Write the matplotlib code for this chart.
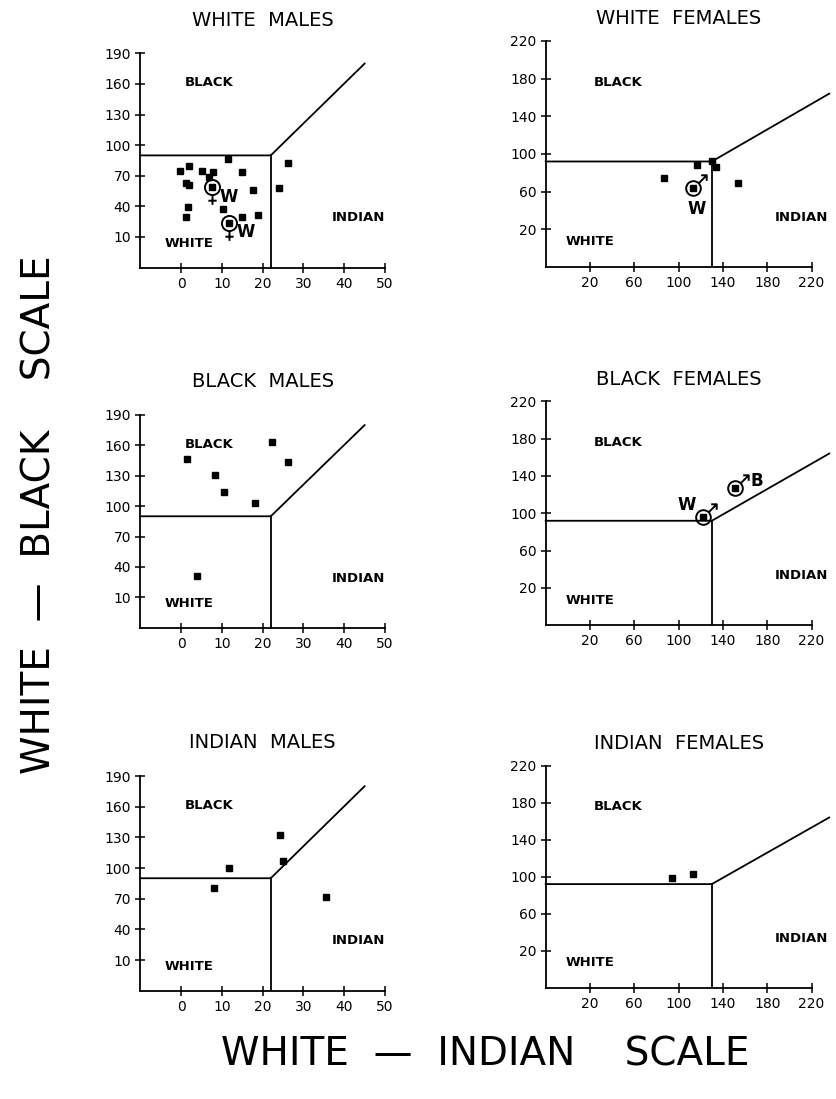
import matplotlib.pyplot as plt
from matplotlib.path import Path

plt.rcParams['font.family'] = ['DejaVu Sans']

# ---- data ----
# left column: x = white-indian scale, y = white-black scale
wm_x = [-0.2, 2.0, 5.2, 7.8, 11.6, 14.9, 1.2, 2.0, 6.9, 17.6, 26.3, 24.1, 1.8, 10.4, 1.2, 14.9, 18.9]
wm_y = [75, 80, 74.4, 74, 86.2, 73.4, 63.2, 61, 68.5, 56, 82.8, 57.7, 39.7, 37.2, 29.3, 29.3, 31.3]
wm_sym_x = [7.7, 11.8]
wm_sym_y = [58.7, 24]
wm_sym_lab = ['W', 'W']

bm_x = [1.4, 8.3, 10.5, 18.1, 22.4, 26.3, 3.8]
bm_y = [146.2, 131, 114.2, 103.4, 163.6, 143.9, 31]

im_x = [11.8, 8.1, 24.3, 24.9, 35.5]
im_y = [99.7, 80.7, 132.6, 107.2, 71.9]

# right column
wf_x = [87, 116.3, 130.4, 133.4, 153.8]
wf_y = [74, 88.3, 92.8, 86.5, 68.8]
wf_sym_x = [112.7]
wf_sym_y = [63.5]
wf_sym_lab = ['W']

bf_x = []
bf_y = []
bf_sym_x = [122.3, 150.9]
bf_sym_y = [95.7, 126.8]
bf_sym_lab = ['W', 'B']

if_x = [94.3, 113.2]
if_y = [98.9, 102.6]

# decision boundaries
left_bx = [-10, 22, 45]
left_by = [90, 90, 180]
right_bx = [-20, 130, 236]
right_by = [92, 92, 164]

left_xticks = [0, 10, 20, 30, 40, 50]
left_yticks = [10, 40, 70, 100, 130, 160, 190]
right_xticks = [20, 60, 100, 140, 180, 220]
right_yticks = [20, 60, 100, 140, 180, 220]

W, H = 836, 1099
fig = plt.figure(figsize=(W / 100, H / 100), dpi=100)


def rect(x0, x1, ytop, ybot):
    return [x0 / W, 1 - ybot / H, (x1 - x0) / W, (ybot - ytop) / H]


# symbols: circle with cross (female) or arrow (male)
circ = Path.unit_circle()
fem = Path.make_compound_path(circ, Path([(0, -1), (0, -2.3)]),
                              Path([(-0.55, -1.75), (0.55, -1.75)]))
male = Path.make_compound_path(circ, Path([(0.7, 0.7), (1.8, 1.8)]),
                               Path([(1.05, 1.8), (1.8, 1.8), (1.8, 1.05)]))


def panel(pos, title, side, px, py, sx=(), sy=(), slab=(), sym=None, lab_off=None):
    ax = fig.add_axes(pos)
    if side == 'left':
        ax.set_xlim(-10, 50)
        ax.set_ylim(-20, 190)
        ax.set_xticks(left_xticks)
        ax.set_yticks(left_yticks)
        bx, by = left_bx, left_by
        txt = [(7, 161, 'BLACK'), (2, 4, 'WHITE'), (43.5, 29, 'INDIAN')]
    else:
        ax.set_xlim(-20, 220)
        ax.set_ylim(-20, 220)
        ax.set_xticks(right_xticks)
        ax.set_yticks(right_yticks)
        bx, by = right_bx, right_by
        txt = [(45, 176, 'BLACK'), (20, 7, 'WHITE'), (211, 33, 'INDIAN')]
    for s in ['top', 'right']:
        ax.spines[s].set_visible(False)
    for s in ['left', 'bottom']:
        ax.spines[s].set_linewidth(1.3)
    ax.tick_params(direction='inout', length=7, width=1.1, labelsize=10, pad=3)
    ax.plot(bx, by, color='black', lw=1.3, clip_on=False)
    ax.plot([bx[1], bx[1]], [ax.get_ylim()[0], by[1]], color='black', lw=1.3)
    ax.plot(px, py, 's', color='black', ms=4.5, clip_on=False)
    for x, y, t in txt:
        ax.text(x, y, t, ha='center', va='center', fontsize=9.5, fontweight='bold')
    if sym is not None:
        ms = 25 if sym is fem else 19
        ax.plot(sx, sy, linestyle='none', marker=sym, ms=ms, mfc='none', mec='black', mew=1.4)
        ax.plot(sx, sy, 's', color='black', ms=4.5)
        for x, y, t, off in zip(sx, sy, slab, lab_off):
            ax.annotate(t, (x, y), xytext=off, textcoords='offset points',
                        ha='center', va='center', fontsize=12, fontweight='bold')
    ax.set_title(title, fontsize=14, pad=20 if side == 'left' else 12)
    return ax


panel(rect(140.2, 385, 53.4, 267.6), 'WHITE  MALES', 'left', wm_x, wm_y,
      wm_sym_x, wm_sym_y, wm_sym_lab, fem, [(12, -7), (12, -7)])
panel(rect(545.7, 811.5, 40.9, 267), 'WHITE  FEMALES', 'right', wf_x, wf_y,
      wf_sym_x, wf_sym_y, wf_sym_lab, male, [(3, -15)])
panel(rect(140.2, 385, 415, 627.7), 'BLACK  MALES', 'left', bm_x, bm_y)
panel(rect(545.7, 811.5, 401.3, 625.3), 'BLACK  FEMALES', 'right', bf_x, bf_y,
      bf_sym_x, bf_sym_y, bf_sym_lab, male, [(-12, 9), (16, 5)])
panel(rect(140.2, 385, 776, 990.7), 'INDIAN  MALES', 'left', im_x, im_y)
panel(rect(545.7, 811.5, 765.7, 987.7), 'INDIAN  FEMALES', 'right', if_x, if_y)

fig.text(40 / W, 1 - 515 / H, 'WHITE  —  BLACK    SCALE', rotation=90,
         ha='center', va='center', fontsize=28)
fig.text(485 / W, 1 - 1055 / H, 'WHITE  —  INDIAN    SCALE',
         ha='center', va='center', fontsize=28)

fig.savefig('out.png', dpi=100)
